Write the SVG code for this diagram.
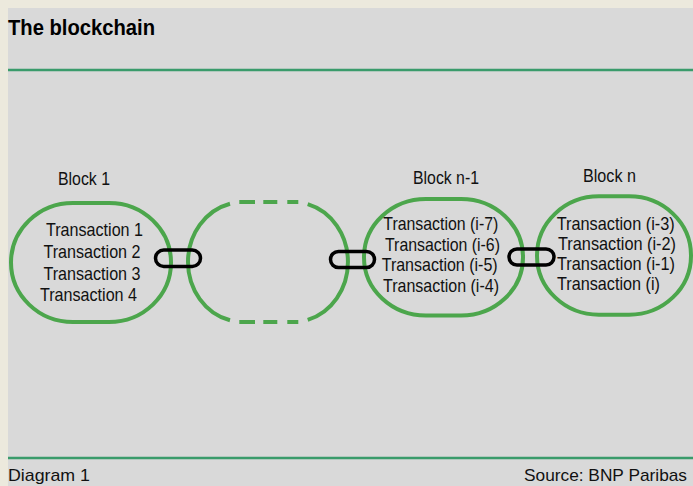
<svg xmlns="http://www.w3.org/2000/svg" width="693" height="486" viewBox="0 0 693 486">
  <style>
    .frame { fill: #ECE9DD; }
    .panel { fill: #D9D9D9; }
    .rule { stroke: #3A9B6B; stroke-width: 2.5; }
    .block { fill: none; stroke: #4CA64C; stroke-width: 4; }
    .link { fill: none; stroke: #000000; stroke-width: 3.5; }
    .title { font-family: "Liberation Sans", Arial, sans-serif; font-size: 22px; font-weight: bold; fill: #000; }
    .label { font-family: "Liberation Sans", Arial, sans-serif; font-size: 18px; fill: #111; }
    .tx { font-family: "Liberation Sans", Arial, sans-serif; font-size: 18.5px; fill: #111; }
    .foot { font-family: "Liberation Sans", Arial, sans-serif; font-size: 17px; fill: #111; }
  </style>

  <!-- background -->
  <rect class="frame" x="0" y="0" width="693" height="486"/>
  <rect class="panel" x="8" y="8" width="685" height="478"/>

  <!-- header and footer rules -->
  <line class="rule" x1="8" y1="70" x2="693" y2="70"/>
  <line class="rule" x1="8" y1="458" x2="693" y2="458"/>

  <text class="title" x="8" y="35" textLength="147" lengthAdjust="spacingAndGlyphs">The blockchain</text>

  <!-- Block 1 -->
  <g id="block-1">
    <rect class="block" x="11" y="203" width="160" height="119" rx="62" ry="59.5"/>
    <text class="label" x="58" y="185" textLength="52" lengthAdjust="spacingAndGlyphs">Block 1</text>
    <text class="tx" x="46" y="236" textLength="97" lengthAdjust="spacingAndGlyphs">Transaction 1</text>
    <text class="tx" x="43.5" y="258" textLength="97" lengthAdjust="spacingAndGlyphs">Transaction 2</text>
    <text class="tx" x="43.5" y="280" textLength="97" lengthAdjust="spacingAndGlyphs">Transaction 3</text>
    <text class="tx" x="40" y="301" textLength="97" lengthAdjust="spacingAndGlyphs">Transaction 4</text>
  </g>

  <!-- intermediate blocks (elided) -->
  <g id="block-gap">
    <path class="block" d="M230,203.7 A55,60 0 0 0 230,320.3"/>
    <path class="block" d="M307.7,204.2 A55,60 0 0 1 307.7,319.8"/>
    <path class="block" d="M239.3,202 H255 M263.3,202 H277.3 M287.3,202 H298.3"/>
    <path class="block" d="M239.3,322 H255 M263.3,322 H277.3 M287.3,322 H298.3"/>
  </g>

  <!-- Block n-1 -->
  <g id="block-n-1">
    <rect class="block" x="364" y="199" width="159" height="116.5" rx="62" ry="58"/>
    <text class="label" x="413" y="184" textLength="66" lengthAdjust="spacingAndGlyphs">Block n-1</text>
    <text class="tx" x="383.3" y="230" textLength="115" lengthAdjust="spacingAndGlyphs">Transaction (i-7)</text>
    <text class="tx" x="385" y="250.5" textLength="115" lengthAdjust="spacingAndGlyphs">Transaction (i-6)</text>
    <text class="tx" x="381.7" y="271" textLength="116" lengthAdjust="spacingAndGlyphs">Transaction (i-5)</text>
    <text class="tx" x="383" y="291.5" textLength="116" lengthAdjust="spacingAndGlyphs">Transaction (i-4)</text>
  </g>

  <!-- Block n -->
  <g id="block-n">
    <rect class="block" x="537" y="196.3" width="154" height="118.4" rx="62" ry="59"/>
    <text class="label" x="583" y="182" textLength="53" lengthAdjust="spacingAndGlyphs">Block n</text>
    <text class="tx" x="556.7" y="230" textLength="118" lengthAdjust="spacingAndGlyphs">Transaction (i-3)</text>
    <text class="tx" x="558" y="250" textLength="118" lengthAdjust="spacingAndGlyphs">Transaction (i-2)</text>
    <text class="tx" x="557" y="270" textLength="118" lengthAdjust="spacingAndGlyphs">Transaction (i-1)</text>
    <text class="tx" x="557" y="290" textLength="103" lengthAdjust="spacingAndGlyphs">Transaction (i)</text>
  </g>

  <!-- chain links between blocks -->
  <g id="connectors">
    <rect class="link" x="155.5" y="250" width="45" height="16.5" rx="8.25"/>
    <rect class="link" x="330.5" y="251.5" width="44" height="16" rx="8"/>
    <rect class="link" x="509" y="249" width="45" height="16" rx="8"/>
  </g>

  <text class="foot" x="8" y="481" textLength="82" lengthAdjust="spacingAndGlyphs">Diagram 1</text>
  <text class="foot" x="524" y="481" textLength="163" lengthAdjust="spacingAndGlyphs">Source: BNP Paribas</text>
</svg>
